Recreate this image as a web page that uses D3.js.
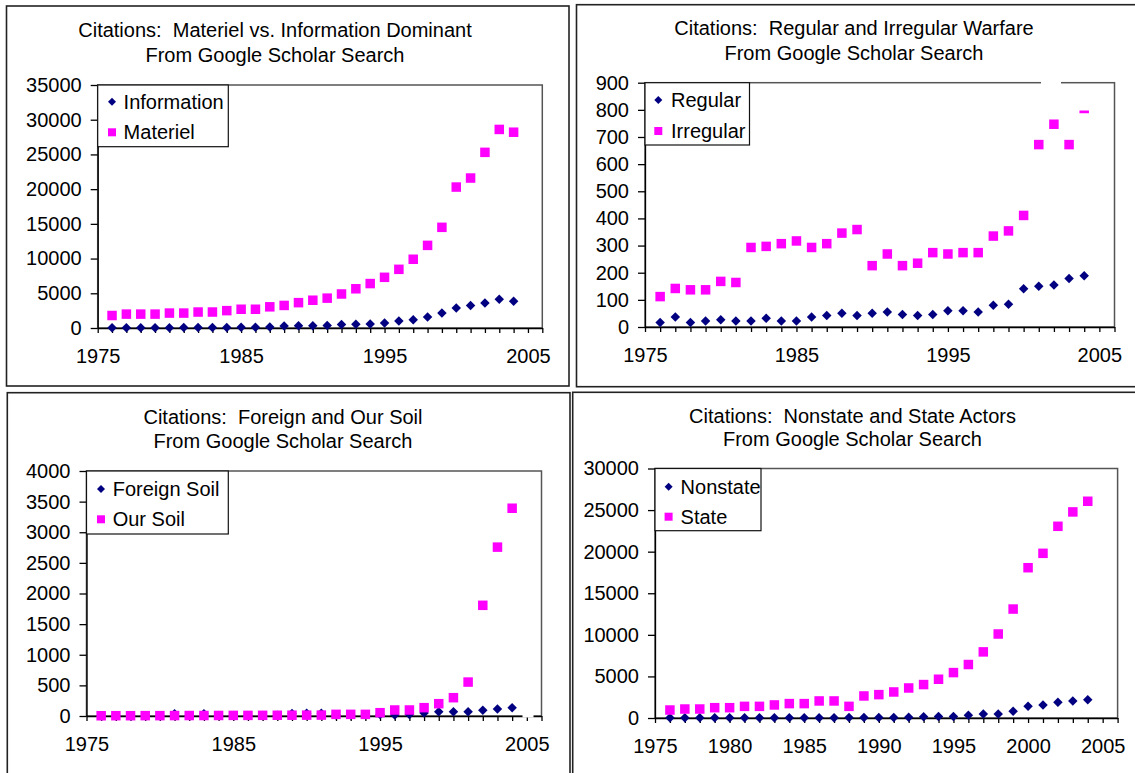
<!DOCTYPE html>
<html>
<head>
<meta charset="utf-8">
<script src="https://cdn.jsdelivr.net/npm/d3@7"></script>
<style>
    body { margin: 0; background: #fff; }
    svg text { font-family: "Liberation Sans", Arial, sans-serif; font-size: 20px; fill: #000; white-space: pre; }
</style>
</head>
<body>
<svg id="chart" width="1135" height="773"></svg>
<script>
const years = [1976, 1977, 1978, 1979, 1980, 1981, 1982, 1983, 1984, 1985, 1986, 1987, 1988, 1989, 1990,
    1991, 1992, 1993, 1994, 1995, 1996, 1997, 1998, 1999, 2000, 2001, 2002, 2003, 2004];

const information = [30, 40, 40, 50, 50, 60, 70, 80, 90, 100, 120, 150, 280, 330, 340,
    350, 520, 540, 560, 720, 1000, 1200, 1580, 2150, 2880, 3250, 3600, 4150, 3850];
const materiel = [1800, 2000, 2000, 2000, 2150, 2150, 2300, 2300, 2500, 2700, 2700, 3050, 3250, 3650, 4000,
    4300, 4900, 5650, 6400, 7300, 8450, 9900, 11900, 14500, 20300, 21600, 25300, 28600, 28200];

const regular = [17, 37, 17, 22, 27, 22, 22, 32, 22, 22, 37, 42, 51, 42, 51,
    55, 46, 42, 46, 60, 60, 55, 80, 84, 141, 150, 155, 179, 189];
const irregular = [112, 142, 137, 137, 168, 164, 293, 297, 307, 317, 293, 307, 346, 359, 226,
    269, 226, 235, 274, 269, 274, 274, 335, 354, 411, 672, 747, 672, 805];

const foreignSoil = [3, 3, 4, 4, 5, 35, 6, 35, 7, 8, 9, 10, 12, 40, 45,
    45, 15, 18, 20, 25, 15, 25, 50, 70, 70, 70, 92, 114, 136];
const ourSoil = [4, 5, 5, 6, 6, 7, 8, 8, 9, 10, 10, 11, 12, 13, 14,
    15, 27, 27, 27, 54, 98, 98, 136, 201, 299, 554, 1807, 2757, 3392];

const nonstate = [20, 20, 25, 25, 30, 30, 35, 35, 40, 40, 45, 45, 50, 55, 60,
    70, 80, 160, 170, 180, 320, 480, 480, 800, 1400, 1570, 1890, 2050, 2200];
const state = [960, 1080, 1080, 1240, 1240, 1400, 1400, 1570, 1730, 1730, 2050, 2050, 1400, 2650, 2810,
    3130, 3610, 4020, 4660, 5460, 6430, 7950, 10100, 13100, 18070, 19800, 23050, 24780, 26060];

const subtitle = "From Google Scholar Search";
const colors = ["#000080", "#ff00ff"];

// layout of the four pasted Excel charts
const panels = [
    {
        title: "Citations:  Materiel vs. Information Dominant",
        names: ["Information", "Materiel"], series: [information, materiel],
        yMax: 35000, yStep: 5000, xStep: 10,
        frame: [6.5, 6, 569, 386], plot: [97.7, 85, 542.3, 328],
        titleX: 275, titleY: [30, 55],
        legend: {x1: 228.3, y1: 146.7, rows: [101.7, 132.3], mx: 112, tx: 123.6}
    },
    {
        title: "Citations:  Regular and Irregular Warfare",
        names: ["Regular", "Irregular"], series: [regular, irregular],
        yMax: 900, yStep: 100, xStep: 10,
        frame: [576.5, 4.7, 1140, 386.7], plot: [645, 82.7, 1114.5, 327],
        titleX: 854, titleY: [28.3, 52.7],
        legend: {x1: 749.5, y1: 145, rows: [100, 131], mx: 658.3, tx: 671}
    },
    {
        title: "Citations:  Foreign and Our Soil",
        names: ["Foreign Soil", "Our Soil"], series: [foreignSoil, ourSoil],
        yMax: 4000, yStep: 500, xStep: 10,
        frame: [7.3, 392.7, 570, 780], plot: [86.5, 471, 541.5, 716],
        titleX: 283, titleY: [416.7, 441],
        legend: {x1: 228.3, y1: 534, rows: [489, 519.3], mx: 101, tx: 112.7}
    },
    {
        title: "Citations:  Nonstate and State Actors",
        names: ["Nonstate", "State"], series: [nonstate, state],
        yMax: 30000, yStep: 5000, xStep: 5,
        frame: [572.7, 392.3, 1140, 780], plot: [655, 468.5, 1117.6, 718],
        titleX: 852.5, titleY: [415.7, 439.3],
        legend: {x1: 761, y1: 530.7, rows: [486.7, 516.7], mx: 668.6, tx: 680.6}
    }
];

// white patches that cover bits of the original charts
const patches = [
    [1041, 79, 20, 7],
    [1076, 96, 17, 14.5],
    [522.5, 712.5, 11, 5]
];

const svg = d3.select("#chart");
svg.append("rect").attr("width", 1135).attr("height", 773).attr("fill", "#fff");

function marker(g, shape, cx, cy, size, color) {
    if (shape === 0) {
        const r = size / 2;
        g.append("path")
            .attr("d", `M${cx},${cy - r}L${cx + r},${cy}L${cx},${cy + r}L${cx - r},${cy}Z`)
            .attr("fill", color);
    } else {
        g.append("rect")
            .attr("x", cx - size / 2).attr("y", cy - size / 2)
            .attr("width", size).attr("height", size)
            .attr("fill", color);
    }
}

panels.forEach(p => {
    const g = svg.append("g");
    const [fx0, fy0, fx1, fy1] = p.frame;
    const [px0, py0, px1, py1] = p.plot;

    g.append("rect")
        .attr("x", fx0).attr("y", fy0)
        .attr("width", fx1 - fx0).attr("height", fy1 - fy0)
        .attr("fill", "#fff").attr("stroke", "#222").attr("stroke-width", 1.6);

    g.append("text").attr("x", p.titleX).attr("y", p.titleY[0]).attr("dy", "0.35em")
        .attr("text-anchor", "middle").text(p.title);
    g.append("text").attr("x", p.titleX).attr("y", p.titleY[1]).attr("dy", "0.35em")
        .attr("text-anchor", "middle").text(subtitle);

    const x = d3.scaleLinear().domain([1975, 2006]).range([px0, px1]);
    const y = d3.scaleLinear().domain([0, p.yMax]).range([py1, py0]);

    g.append("rect")
        .attr("x", px0).attr("y", py0)
        .attr("width", px1 - px0).attr("height", py1 - py0)
        .attr("fill", "none").attr("stroke", "#555").attr("stroke-width", 1.5);

    const xAxis = d3.axisBottom(x)
        .tickValues(d3.range(1975, 2007))
        .tickSize(5).tickSizeOuter(0)
        .tickPadding(16)
        .tickFormat(d => (d - 1975) % p.xStep === 0 ? d : "");

    const yAxis = d3.axisLeft(y)
        .tickValues(d3.range(0, p.yMax + p.yStep, p.yStep))
        .tickSize(7).tickSizeOuter(0)
        .tickPadding(9)
        .tickFormat(d => d);

    g.append("g")
        .attr("transform", `translate(0, ${py1})`)
        .style("color", "#000")
        .call(xAxis)
        .selectAll("path, line").attr("stroke-width", 1.3);

    g.append("g")
        .attr("transform", `translate(${px0}, 0)`)
        .style("color", "#000")
        .call(yAxis)
        .selectAll("path, line").attr("stroke-width", 1.3);

    p.series.forEach((vals, si) => {
        const pts = g.append("g");
        vals.forEach((v, i) => marker(pts, si, x(years[i]), y(v), 9.5, colors[si]));
    });

    const lg = p.legend;
    g.append("rect")
        .attr("x", px0).attr("y", py0)
        .attr("width", lg.x1 - px0).attr("height", lg.y1 - py0)
        .attr("fill", "#fff").attr("stroke", "#111").attr("stroke-width", 1.2);
    p.names.forEach((name, si) => {
        marker(g, si, lg.mx, lg.rows[si], 8, colors[si]);
        g.append("text").attr("x", lg.tx).attr("y", lg.rows[si]).attr("dy", "0.35em").text(name);
    });
});

patches.forEach(r => {
    svg.append("rect")
        .attr("x", r[0]).attr("y", r[1]).attr("width", r[2]).attr("height", r[3])
        .attr("fill", "#fff");
});
</script>
</body>
</html>
